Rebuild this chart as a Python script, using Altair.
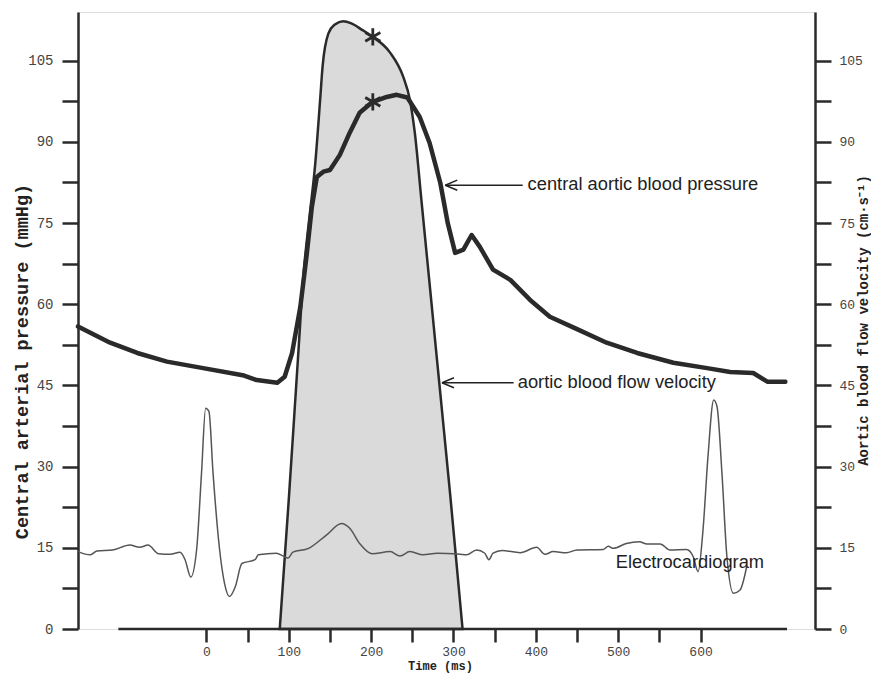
import altair as alt
import pandas as pd

# ---- data ----
pressure_t = [-156, -117, -84, -48, -4, 44, 61, 86, 95, 104, 114, 122, 128, 134, 142, 150, 162, 174, 186, 202,
              219, 231, 244, 259, 271, 284, 293, 302, 312, 322, 332, 348, 369, 393, 417, 450, 486, 523, 567, 608,
              636, 664, 681, 703]
pressure_v = [55.9, 52.9, 51.0, 49.4, 48.2, 46.9, 46.0, 45.5, 46.6, 51.0, 59.5, 69.5, 78.0, 83.5, 84.5, 84.8, 87.6,
              91.7, 95.4, 97.4, 98.3, 98.7, 98.2, 94.6, 89.8, 82.4, 75.0, 69.5, 70.1, 72.8, 70.6, 66.4, 64.5, 60.8,
              57.7, 55.4, 52.9, 51.0, 49.2, 48.2, 47.5, 47.3, 45.7, 45.7]

velocity_t = [89, 100, 111, 118, 125, 132, 138, 141, 148, 156, 166, 176, 189, 202, 223, 239, 247, 253, 261, 280,
              296, 311]
velocity_v = [0, 24, 49.7, 65.8, 76, 85.8, 97.7, 103.9, 110.0, 111.7, 112.3, 111.9, 110.7, 109.4, 106.5, 102, 97.8,
              91.7, 79.3, 49.7, 24.8, 0]

ecg_t = [-156, -141, -133, -114, -93, -81, -71, -58, -44, -32, -26, -19, -12, -6, -1, 3, 8, 16, 22, 28,
         35, 43, 59, 63, 85, 93, 99, 105, 124, 146, 164, 174, 186, 201, 223, 235, 247, 263, 280, 308,
         316, 328, 338, 343, 348, 359, 381, 401, 411, 421, 437, 450, 482, 488, 494, 510, 526, 535, 551, 563,
         583, 591, 597, 603, 609, 616, 620, 626, 632, 640, 648, 656]
ecg_v = [14.3, 13.7, 14.4, 14.6, 15.5, 15.1, 15.5, 13.9, 13.8, 14.2, 12.8, 9.6, 14.6, 28.8, 40.8, 40.2, 28.8, 14.6,
         8.4, 6.0, 7.8, 12.1, 12.8, 13.7, 14.0, 13.5, 13.1, 14.2, 14.9, 17.4, 19.5, 18.6, 15.8, 13.9, 14.3, 13.5,
         14.3, 13.7, 14.0, 13.8, 13.7, 14.6, 14.0, 12.8, 14.0, 14.5, 14.1, 15.1, 13.8, 14.3, 14.1, 14.6, 14.7,
         15.3, 14.9, 15.8, 16.1, 15.7, 15.7, 14.6, 14.7, 13.4, 10.6, 18.3, 31.8, 42.3, 41.1, 28.8, 13.4, 6.6,
         7.2, 11.5]

star_t = [202, 202]
star_v = [109.4, 97.4]

label_text = ["central aortic blood pressure", "aortic blood flow velocity", "Electrocardiogram"]
label_t = [390, 378, 497]
label_v = [82.0, 45.5, 12.2]

arrow_tip_t = [290, 286]
arrow_end_t = [384, 373]
arrow_v = [82.0, 45.5]

time_axis_start = [-107]
time_axis_end = [705]
time_axis_v = [0]

x_ticks = list(range(0, 601, 50))
y_ticks = [i * 7.5 for i in range(15)]

X_DOMAIN = [-156, 739]
Y_DOMAIN = [0, 114]

# ---- tables ----
pressure_df = pd.DataFrame({"t": pressure_t, "v": pressure_v})
velocity_df = pd.DataFrame({"t": velocity_t, "v": velocity_v})
ecg_df = pd.DataFrame({"t": ecg_t, "v": ecg_v})
star_df = pd.DataFrame({"t": star_t, "v": star_v})
label_df = pd.DataFrame({"t": label_t, "v": label_v, "label": label_text})
arrow_df = pd.DataFrame({"t": arrow_tip_t, "t2": arrow_end_t, "v": arrow_v})
taxis_df = pd.DataFrame({"t": time_axis_start, "t2": time_axis_end, "v": time_axis_v})

DARK = "#2a2a2a"
MONO = "Liberation Mono"
SANS = "Liberation Sans"

x_axis = alt.Axis(
    values=x_ticks,
    labelExpr="datum.value % 100 == 0 ? datum.label : ''",
    domain=False, grid=False,
    tickSize=13, tickWidth=2.5, tickColor=DARK,
    labelPadding=3, labelFont=MONO, labelFontSize=13, labelColor="#444",
    title="Time (ms)", titleFont=MONO, titleFontSize=12, titleFontWeight="bold", titleColor="#222",
    titleX=362, titleY=36, titleBaseline="middle",
)
xscale = alt.Scale(domain=X_DOMAIN, nice=False, zero=False)
yscale = alt.Scale(domain=Y_DOMAIN, nice=False, zero=False)


def X():
    return alt.X("t:Q", scale=xscale, axis=x_axis)


def Y(axis=None):
    return alt.Y("v:Q", scale=yscale, axis=axis)


left_axis = alt.Axis(
    orient="left", values=y_ticks, format="d",
    labelExpr="datum.value % 15 == 0 ? datum.label : ''",
    grid=False, domainColor=DARK, domainWidth=2.5,
    tickSize=16, tickWidth=2.5, tickColor=DARK,
    labelPadding=9, labelFont=MONO, labelFontSize=14, labelColor="#444",
    title="Central arterial pressure (mmHg)", titleFont=MONO, titleFontSize=18.5,
    titleFontWeight="bold", titleColor="#222", titleAngle=270,
    titleX=-57, titleY=349, titleAlign="center", titleBaseline="middle",
)
right_axis = alt.Axis(
    orient="right", values=y_ticks, format="d",
    labelExpr="datum.value % 15 == 0 ? datum.label : ''",
    grid=False, domainColor=DARK, domainWidth=2.5,
    tickSize=16, tickWidth=2.5, tickColor=DARK,
    labelPadding=8, labelFont=MONO, labelFontSize=13, labelColor="#444",
    title="Aortic blood flow velocity (cm\u00b7s\u207b\u00b9)", titleFont=MONO, titleFontSize=14,
    titleFontWeight="bold", titleColor="#222", titleAngle=270,
    titleX=48, titleY=308, titleAlign="center", titleBaseline="middle",
)

velocity = alt.Chart(velocity_df).mark_area(
    interpolate="monotone", fill="#dadada", stroke=DARK, strokeWidth=2.5
).encode(x=X(), y=Y(right_axis))

pressure = alt.Chart(pressure_df).mark_line(
    color=DARK, strokeWidth=4.5, strokeJoin="round", strokeCap="round"
).encode(x=X(), y=Y(left_axis))

ecg = alt.Chart(ecg_df).mark_line(
    color="#555", strokeWidth=1.5, interpolate="monotone"
).encode(x=X(), y=Y())

taxis = alt.Chart(taxis_df).mark_rule(color=DARK, strokeWidth=2.5).encode(
    x=X(), x2="t2:Q", y=Y()
)

stars = alt.Chart(star_df).mark_point(
    shape="M0,-1L0,1M-0.87,-0.5L0.87,0.5M-0.87,0.5L0.87,-0.5",
    size=300, filled=False, stroke=DARK, strokeWidth=2.8, opacity=1
).encode(x=X(), y=Y())

arrows = alt.Chart(arrow_df).mark_rule(color="#222", strokeWidth=1.5).encode(
    x=X(), x2="t2:Q", y=Y()
)
heads = alt.Chart(arrow_df).mark_point(
    shape="M0,0L1,-0.42M0,0L1,0.42", size=576, filled=False,
    stroke="#222", strokeWidth=1.5, opacity=1
).encode(x=X(), y=Y())

labels = alt.Chart(label_df).mark_text(
    font=SANS, fontSize=18.3, color="#222", align="left", baseline="middle"
).encode(x=X(), y=Y(), text="label:N")

chart = alt.layer(
    velocity, pressure, ecg, taxis, stars, arrows, heads, labels
).resolve_scale(y="independent").properties(
    width=737, height=617,
    autosize=alt.AutoSizeParams(type="none"),
    padding={"left": 70, "top": 4, "right": 56, "bottom": 44},
).configure_view(stroke=None).configure(background="white")

chart.save("out.html", embed_options={"renderer": "svg", "actions": False})
